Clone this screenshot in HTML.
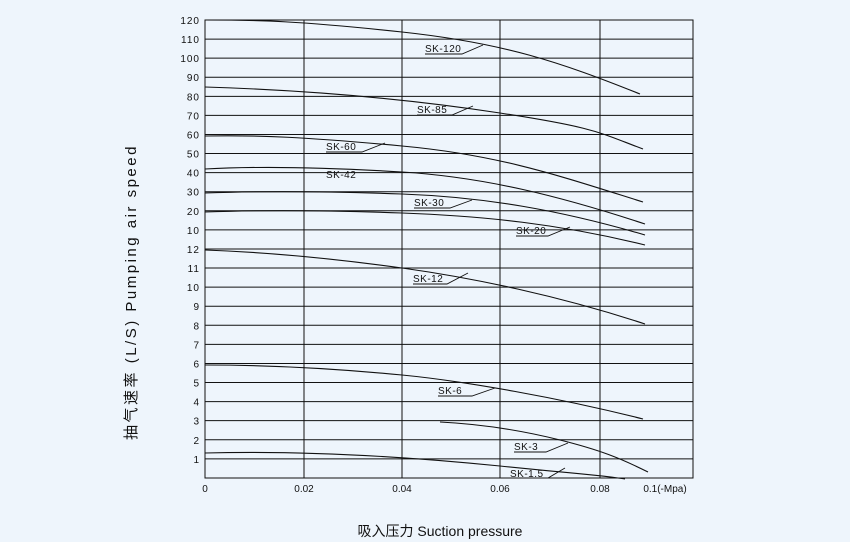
<!DOCTYPE html>
<html><head><meta charset="utf-8"><style>
html,body{margin:0;padding:0;background:#eef5fc;}
svg{display:block;}
text{font-family:"Liberation Sans","Noto Sans CJK SC",sans-serif;fill:#111;}
</style></head><body>
<svg width="850" height="542" viewBox="0 0 850 542" xmlns="http://www.w3.org/2000/svg">
<rect width="850" height="542" fill="#eef5fc"/>
<g stroke="#111" stroke-width="1" fill="none">
<rect x="205" y="20" width="488" height="458"/>
<line x1="304" y1="20" x2="304" y2="478"/>
<line x1="402" y1="20" x2="402" y2="478"/>
<line x1="500" y1="20" x2="500" y2="478"/>
<line x1="600" y1="20" x2="600" y2="478"/>
</g>
<g stroke="#111" stroke-width="1" id="h"></g>
<g font-size="10" text-anchor="end" letter-spacing="1" id="yl"></g>
<g fill="none" stroke="#111" stroke-width="1.1">
<path d="M205,20 C260,20 300,21 402,32 S560,62 640,94"/>
<path d="M205,87 C300,90 402,98 500,113 S600,133 643,149"/>
<path d="M205,136 C260,135 304,137 402,146 S560,176 643,202"/>
<path d="M205,169 C260,166 320,167 402,172 S560,196 645,224"/>
<path d="M205,193 C260,191 320,191 402,194 S560,210 645,235"/>
<path d="M205,212 C260,210 320,210 402,213 S560,224 645,245"/>
<path d="M205,250 C260,252 330,258 402,268 S560,296 645,324"/>
<path d="M205,365 C270,365 340,369 402,375 S560,398 643,419"/>
<path d="M440,422 C480,424 520,430 560,440 S620,458 648,472"/>
<path d="M205,453 C280,451 380,454 500,466 S590,474 625,479"/>
</g>
<g stroke="#111" stroke-width="0.9" fill="none">
<path d="M425,54 H462 L483,45"/>
<path d="M417,115 H452 L473,106"/>
<path d="M326,152 H362 L385,143"/>
<path d="M414,208 H450 L472,200"/>
<path d="M516,236 H548 L570,227"/>
<path d="M413,284 H447 L468,273"/>
<path d="M438,396 H472 L495,388"/>
<path d="M514,452 H546 L568,443"/>
<path d="M510,478 H548 L565,468"/>
</g>
<g font-size="10" letter-spacing="0.5">
<text x="425" y="52">SK-120</text>
<text x="417" y="113">SK-85</text>
<text x="326" y="150">SK-60</text>
<text x="326" y="178">SK-42</text>
<text x="414" y="206">SK-30</text>
<text x="516" y="234">SK-20</text>
<text x="413" y="282">SK-12</text>
<text x="438" y="394">SK-6</text>
<text x="514" y="450">SK-3</text>
<text x="510" y="477">SK-1.5</text>
</g>
<g font-size="10" text-anchor="middle">
<text x="205" y="492">0</text>
<text x="304" y="492">0.02</text>
<text x="402" y="492">0.04</text>
<text x="500" y="492">0.06</text>
<text x="600" y="492">0.08</text>
<text x="665" y="492">0.1(-Mpa)</text>
</g>
<text x="440" y="536" font-size="14" text-anchor="middle">吸入压力 Suction pressure</text>
<text transform="translate(136,292) rotate(-90)" font-size="15" text-anchor="middle" letter-spacing="2.5">抽气速率 (L/S) Pumping air speed</text>
</svg>
<script>
var labs=["120","110","100","90","80","70","60","50","40","30","20","10","12","11","10","9","8","7","6","5","4","3","2","1"];
var h=document.getElementById('h'),yl=document.getElementById('yl'),ns="http://www.w3.org/2000/svg";
for(var i=0;i<24;i++){var y=20+i*19.08;
var l=document.createElementNS(ns,'line');l.setAttribute('x1',205);l.setAttribute('x2',693);l.setAttribute('y1',y);l.setAttribute('y2',y);h.appendChild(l);
var t=document.createElementNS(ns,'text');t.setAttribute('x',200);t.setAttribute('y',y+4);t.textContent=labs[i];yl.appendChild(t);}
</script>
</body></html>
